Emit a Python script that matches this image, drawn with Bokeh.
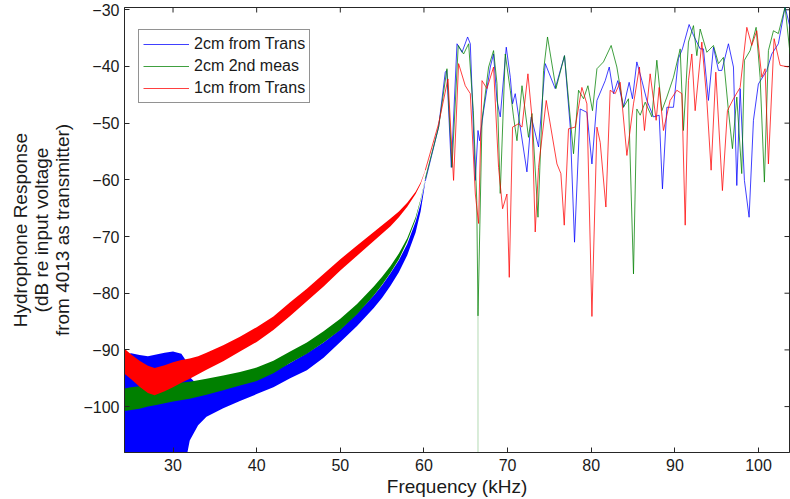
from bokeh.plotting import figure
from bokeh.models import Range1d, FixedTicker, Legend, LegendItem
from bokeh.embed import file_html
from bokeh.resources import INLINE
import math

# ---------------- data (kHz, dB) ----------------
x_ticks = [30, 40, 50, 60, 70, 80, 90, 100]
y_ticks = [-100, -90, -80, -70, -60, -50, -40, -30]
x_lim = [24.2, 103.7]
y_lim = [-108.1, -29.6]

# noisy low-frequency envelopes
red_band_f = [24.2, 25, 26, 27, 27.8, 29, 30, 31, 32, 33, 34, 36, 38, 40, 42, 44, 46, 48, 50, 52, 54, 56, 57, 58, 59, 59.6, 60.16]
red_band_up = [-89.8, -90.8, -91.9, -92.8, -93.2, -92.7, -92.2, -91.8, -91.5, -91.1, -90.5, -89.2, -87.7, -86.0, -84.1, -81.6, -79.2, -76.6, -74.0, -71.6, -69.2, -66.8, -65.6, -64.05, -62.1, -60.45, -58.25]
red_band_lo = [-94.2, -95.2, -96.5, -97.6, -98.0, -97.3, -96.6, -95.8, -95.1, -94.3, -93.5, -92.0, -90.3, -88.6, -86.5, -84.0, -81.4, -78.8, -76.0, -73.4, -70.8, -68.2, -66.6, -64.75, -62.5, -60.75, -58.35]

green_band_f = [24.2, 25, 26, 27, 28, 29, 30, 32, 34, 36, 38, 40, 42, 44, 46, 48, 50, 52, 54, 55, 56, 57, 58, 59, 59.6, 60.16]
green_band_up = [-96.8, -96.6, -96.4, -96.2, -96.1, -96.0, -95.9, -95.6, -95.1, -94.5, -93.9, -93.1, -91.9, -90.3, -88.7, -86.7, -84.5, -81.9, -78.8, -77.1, -75.2, -73.0, -70.3, -66.6, -63.4, -59.75]
green_band_lo = [-100.8, -100.6, -100.4, -100.0, -99.7, -99.4, -99.1, -98.6, -97.9, -97.1, -96.3, -95.5, -94.1, -92.3, -90.7, -88.7, -86.5, -83.7, -80.4, -78.5, -76.4, -74.0, -70.9, -67.0, -63.6, -59.85]

blue_band_f = [24.2, 25, 26, 27, 28, 29, 30, 31, 31.6, 32, 33, 34, 36, 38, 40, 42, 44, 46, 48, 50, 52, 54, 55, 56, 57, 58, 59, 59.6, 60.16]
blue_band_up = [-90.8, -90.6, -90.9, -91.1, -90.8, -90.5, -90.3, -90.7, -92.0, -94.8, -96.3, -96.8, -96.5, -95.9, -95.0, -93.8, -92.3, -90.6, -88.7, -86.4, -83.6, -80.4, -78.6, -76.5, -74.2, -71.3, -67.4, -64.2, -60.2]
blue_band_lo = [-109, -109, -109, -109, -109, -109, -109, -109, -109, -106.0, -103.3, -101.8, -100.3, -99.0, -97.8, -96.6, -95.0, -93.6, -91.4, -88.6, -85.8, -82.6, -80.8, -78.7, -76.3, -73.3, -69.3, -65.6, -60.4]

# resonant high-frequency region
blue_f = [60.16, 61.75, 62.55, 62.73, 63.27, 63.95, 64.55, 65.22, 65.54, 66.14, 66.46, 66.65, 67.13, 67.93, 68.32, 68.73, 69.12, 69.84, 70.32, 70.59, 70.91, 71.51, 72.31, 72.83, 73.7, 74.5, 75.69, 76.8, 77.49, 78.0, 78.68, 79.48, 80.08, 80.68, 81.67, 82.15, 82.66, 83.18, 83.85, 84.53, 84.93, 85.45, 86.05, 86.65, 87.44, 88.12, 88.51, 89.04, 89.83, 90.42, 90.9, 91.7, 92.22, 93.02, 93.41, 94.01, 94.61, 95.21, 95.61, 96.4, 97.0, 97.4, 97.8, 98.31, 98.87, 99.39, 99.98, 100.99, 101.58, 102.37, 103.17, 103.77]
blue_db = [-60.2, -50.7, -41.0, -40.7, -57.8, -36.0, -37.5, -34.8, -36.0, -60.1, -51.3, -53.1, -47.8, -40.1, -37.8, -46.0, -48.9, -36.6, -41.9, -46.6, -44.8, -50.7, -58.6, -48.9, -54.2, -39.5, -43.9, -38.1, -50.7, -71.0, -47.5, -48.1, -57.2, -46.0, -42.5, -40.1, -44.8, -42.5, -47.2, -42.8, -45.7, -39.2, -42.5, -46.0, -48.9, -48.6, -61.6, -47.2, -47.2, -38.6, -36.9, -32.6, -34.5, -36.9, -36.9, -46.0, -36.6, -40.7, -40.7, -36.0, -40.1, -61.0, -43.9, -60.1, -66.6, -49.5, -43.1, -40.7, -37.8, -36.0, -29.5, -33.1]

green_f = [60.16, 61.75, 62.75, 63.35, 64.1, 64.74, 65.34, 65.9, 66.31, 66.46, 66.94, 67.73, 68.32, 68.73, 69.12, 69.72, 70.32, 70.71, 71.12, 71.72, 72.5, 72.91, 73.63, 74.3, 74.77, 75.78, 76.8, 77.88, 78.48, 79.08, 79.6, 80.15, 80.68, 81.46, 82.38, 83.06, 83.85, 84.45, 85.05, 85.45, 85.85, 86.45, 87.25, 87.84, 88.44, 89.04, 89.83, 90.63, 91.02, 91.62, 92.22, 92.62, 93.02, 93.82, 94.61, 95.21, 95.8, 96.4, 96.88, 97.4, 97.99, 98.31, 98.99, 99.71, 100.19, 100.7, 101.18, 101.78, 102.37, 103.17, 103.77]
green_db = [-59.8, -50.7, -40.4, -57.8, -36.3, -37.8, -36.0, -47.8, -63.6, -84.0, -49.5, -40.1, -37.2, -43.0, -62.4, -37.8, -44.2, -48.9, -53.1, -43.4, -52.5, -48.3, -66.6, -40.7, -34.8, -43.9, -38.1, -55.4, -44.2, -45.7, -43.4, -47.8, -40.4, -39.2, -36.3, -40.1, -47.2, -45.7, -76.6, -47.5, -48.6, -46.3, -48.9, -38.9, -47.8, -45.4, -41.9, -36.9, -51.3, -35.7, -32.8, -38.1, -33.4, -37.5, -36.3, -39.5, -38.4, -47.8, -54.5, -45.4, -58.9, -38.9, -37.2, -33.1, -41.9, -60.4, -37.2, -33.7, -34.2, -29.5, -37.8]
green_spike_f = [66.46, 66.46]
green_spike_db = [-84.0, -110.0]

red_f = [60.16, 61.75, 62.87, 63.54, 64.14, 64.94, 65.54, 66.14, 66.53, 66.94, 67.53, 68.32, 68.92, 69.4, 69.92, 70.2, 70.59, 71.31, 71.72, 72.43, 72.91, 73.3, 73.7, 74.62, 75.9, 76.37, 76.77, 77.28, 78.08, 78.88, 79.48, 80.08, 80.68, 81.07, 81.75, 82.26, 82.86, 83.46, 84.26, 85.05, 85.76, 86.36, 87.04, 87.76, 88.12, 88.63, 89.43, 90.23, 90.83, 91.23, 91.62, 92.02, 92.42, 93.22, 93.82, 94.33, 94.89, 95.68, 96.28, 97.0, 97.8, 98.6, 99.19, 99.79, 100.39, 100.78, 101.18, 101.86, 102.58, 103.57]
red_db = [-58.3, -50.1, -42.2, -60.1, -39.5, -43.4, -44.8, -62.5, -67.7, -42.5, -43.9, -40.1, -57.8, -65.1, -62.5, -77.2, -50.7, -50.1, -50.7, -41.3, -48.9, -69.2, -57.8, -46.0, -57.2, -58.9, -68.0, -51.0, -50.7, -43.7, -46.6, -84.1, -50.7, -53.4, -64.8, -44.2, -44.8, -42.8, -55.7, -46.6, -40.1, -51.3, -41.3, -49.5, -43.7, -51.3, -46.0, -44.2, -44.8, -68.0, -42.5, -37.8, -47.8, -35.7, -46.0, -58.3, -41.0, -61.9, -47.8, -45.7, -43.7, -33.1, -36.3, -33.7, -41.9, -40.4, -57.2, -35.1, -39.8, -40.1]

series_names = ["2cm from Trans", "2cm 2nd meas", "1cm from Trans"]
x_label = "Frequency (kHz)"
y_label = "Hydrophone Response\n(dB re input voltage\nfrom 4013 as transmitter)"

# ---------------- figure ----------------
FONT = "Liberation Sans"
AX = "#262626"
BLUE, GREEN, RED = "#0000ff", "#008000", "#ff0000"

p = figure(width=790, height=499, output_backend="svg", toolbar_location=None,
           x_range=Range1d(*x_lim), y_range=Range1d(*y_lim),
           min_border_left=124, min_border_right=1, min_border_top=7, min_border_bottom=47)
p.xgrid.visible = False
p.ygrid.visible = False
p.outline_line_color = AX
p.background_fill_color = "white"
p.border_fill_color = "white"

def style_axis(ax, ticks):
    ax.ticker = FixedTicker(ticks=ticks)
    ax.major_tick_in = 5
    ax.major_tick_out = 0
    ax.minor_tick_line_color = None
    ax.axis_line_color = AX
    ax.major_tick_line_color = AX
    ax.major_label_text_font = FONT
    ax.major_label_text_color = "#1a1a1a"
    ax.major_label_overrides = {t: str(t).replace("-", "\u2212") for t in ticks}
    ax.major_label_text_font_size = "16px"

xa = p.xaxis[0]
style_axis(xa, x_ticks)
xa.major_label_standoff = 6
xa.axis_label = x_label
xa.axis_label_text_font = FONT
xa.axis_label_text_font_size = "19px"
xa.axis_label_text_font_style = "normal"
xa.axis_label_text_color = "#1a1a1a"
xa.axis_label_standoff = 2

ya = p.yaxis[0]
style_axis(ya, y_ticks)
ya.major_label_standoff = 5
ya.axis_label = y_label
ya.axis_label_text_font = FONT
ya.axis_label_text_font_size = "19px"
ya.axis_label_text_font_style = "normal"
ya.axis_label_text_color = "#1a1a1a"
ya.axis_label_text_line_height = 1.0
ya.axis_label_standoff = 7

# inward ticks on the top and right edges of the box (no labels there)
p.ray(x=x_ticks, y=[y_lim[1]] * len(x_ticks), length=5, length_units="screen",
      angle=-math.pi / 2, line_color=AX, line_width=1)
p.ray(x=[x_lim[1]] * len(y_ticks), y=y_ticks, length=5, length_units="screen",
      angle=math.pi, line_color=AX, line_width=1)

# noisy bands
p.varea(x=blue_band_f, y1=blue_band_lo, y2=blue_band_up, fill_color=BLUE)
p.varea(x=green_band_f, y1=green_band_lo, y2=green_band_up, fill_color=GREEN)
p.varea(x=red_band_f, y1=red_band_lo, y2=red_band_up, fill_color=RED)

# resonance lines
lb = p.line(blue_f, blue_db, line_color=BLUE, line_width=1, line_alpha=0.75)
p.line(green_spike_f, green_spike_db, line_color=GREEN, line_width=1, line_alpha=0.3)
lg = p.line(green_f, green_db, line_color=GREEN, line_width=1, line_alpha=0.75)
lr = p.line(red_f, red_db, line_color=RED, line_width=1, line_alpha=0.75)

legend = Legend(items=[LegendItem(label=series_names[0], renderers=[lb]),
                       LegendItem(label=series_names[1], renderers=[lg]),
                       LegendItem(label=series_names[2], renderers=[lr])],
                location=(14, 349))
legend.label_text_font = FONT
legend.label_text_font_size = "16px"
legend.label_text_color = "#1a1a1a"
legend.glyph_width = 46
legend.glyph_height = 20
legend.label_height = 20
legend.label_standoff = 5
legend.spacing = 2
legend.padding = 4
legend.margin = 0
legend.border_line_color = AX
legend.border_line_width = 1
legend.background_fill_alpha = 1.0
p.add_layout(legend, "center")

open("out.html", "w").write(file_html(p, INLINE))
